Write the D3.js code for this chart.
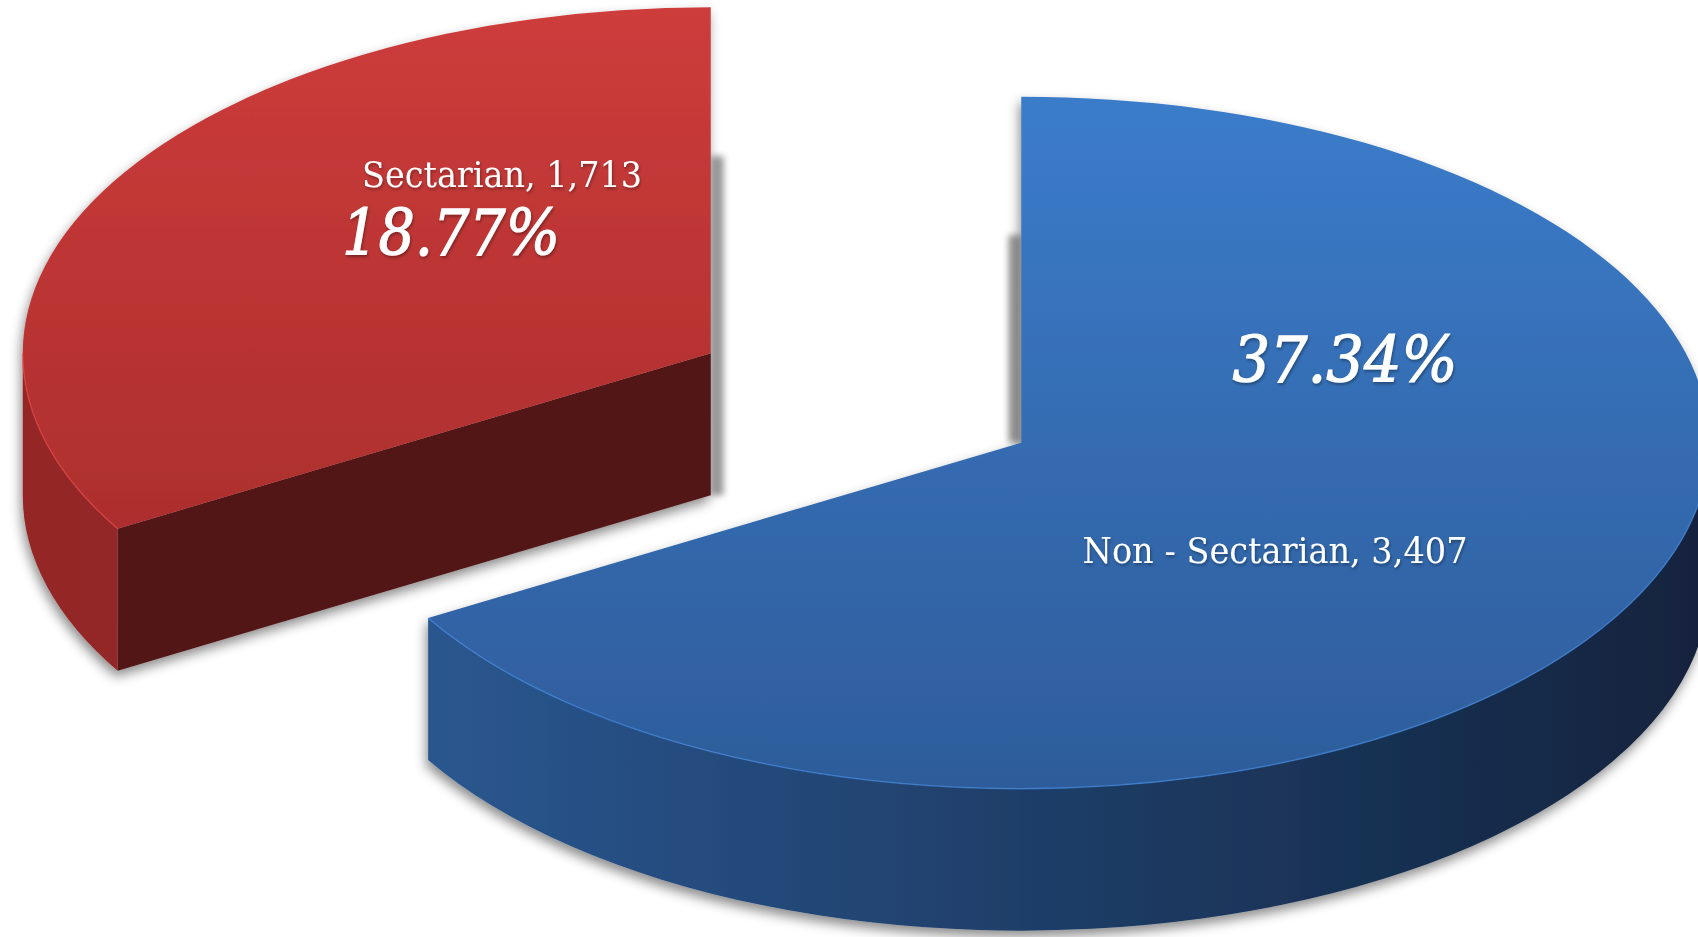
<!DOCTYPE html>
<html>
<head>
<meta charset="utf-8">
<script src="https://cdn.jsdelivr.net/npm/d3@7/dist/d3.min.js"></script>
<style>
  html, body { margin: 0; padding: 0; background: #ffffff; }
  svg { display: block; }
</style>
</head>
<body>
<div id="chart"></div>
<script>
// data
const categories = ['Non - Sectarian', 'Sectarian'];
const counts = [3407, 1713];
const percentLabels = ['37.34%', '18.77%'];

const palette = {
    'Non - Sectarian': { topA: '#3b7cca', topB: '#2e5c9a', sideA: '#2c5a95', sideB: '#12233d', face: '#1c355a' },
    'Sectarian': { topA: '#cd3c3b', topB: '#a22a29', sideA: '#942826', sideB: '#862220', face: '#521616' }
};

function buildChart(containerId) {
    const width = 1698;
    const height = 937;

    const cx = 866;
    const cy = 398;
    const rx = 688;
    const ry = 346;
    const depth = 142;
    const explode = 0.26;

    const svg = d3.select(containerId)
                  .append('svg')
                  .attr('width', width)
                  .attr('height', height);

    const defs = svg.append('defs');

    const shadow = defs.append('filter')
                       .attr('id', 'drop')
                       .attr('x', '-10%').attr('y', '-10%')
                       .attr('width', '120%').attr('height', '130%');
    shadow.append('feDropShadow')
          .attr('dx', -2).attr('dy', 6)
          .attr('stdDeviation', 6)
          .attr('flood-color', '#000')
          .attr('flood-opacity', 0.45);

    const blur = defs.append('filter').attr('id', 'blur')
                     .attr('x', '-100%').attr('y', '-10%')
                     .attr('width', '300%').attr('height', '120%');
    blur.append('feGaussianBlur').attr('stdDeviation', 3);

    const txtShadow = defs.append('filter').attr('id', 'txt');
    txtShadow.append('feDropShadow')
             .attr('dx', 1).attr('dy', 2)
             .attr('stdDeviation', 1.5)
             .attr('flood-color', '#000')
             .attr('flood-opacity', 0.35);

    const pie = d3.pie().sort(null).value(d => d.count);
    const data = categories.map((c, i) => ({ name: c, count: counts[i], pct: percentLabels[i] }));
    const arcs = pie(data);

    // scales mapping unit circle to the tilted ellipse
    const sx = d3.scaleLinear().domain([-1, 1]).range([-rx, rx]);
    const sy = d3.scaleLinear().domain([-1, 1]).range([-ry, ry]);

    arcs.forEach(a => {
        const mid = (a.startAngle + a.endAngle) / 2;
        a.ox = cx + sx(Math.sin(mid) * explode);
        a.oy = cy + sy(-Math.cos(mid) * explode);
    });

    function pt(a, ang, dz) {
        return [a.ox + sx(Math.sin(ang)), a.oy + sy(-Math.cos(ang)) + (dz || 0)];
    }

    function topPath(a) {
        const p0 = pt(a, a.startAngle);
        const p1 = pt(a, a.endAngle);
        const large = (a.endAngle - a.startAngle) > Math.PI ? 1 : 0;
        return 'M' + a.ox + ',' + a.oy + 'L' + p0 + 'A' + rx + ',' + ry + ' 0 ' + large + ' 1 ' + p1 + 'Z';
    }

    function wallPath(a) {
        const s = Math.max(a.startAngle, Math.PI / 2);
        const e = Math.min(a.endAngle, Math.PI * 1.5);
        if (e <= s) return null;
        const t0 = pt(a, s), t1 = pt(a, e);
        const b0 = pt(a, s, depth), b1 = pt(a, e, depth);
        return 'M' + t0 + 'A' + rx + ',' + ry + ' 0 0 1 ' + t1 +
               'L' + b1 + 'A' + rx + ',' + ry + ' 0 0 0 ' + b0 + 'Z';
    }

    function facePath(a, ang) {
        const p = pt(a, ang);
        const pb = pt(a, ang, depth);
        return 'M' + a.ox + ',' + a.oy + 'L' + p + 'L' + pb + 'L' + a.ox + ',' + (a.oy + depth) + 'Z';
    }

    // gradients
    arcs.forEach((a, i) => {
        const col = palette[a.data.name];
        const tg = defs.append('linearGradient')
                       .attr('id', 'top' + i)
                       .attr('gradientUnits', 'userSpaceOnUse')
                       .attr('x1', 0).attr('x2', 0)
                       .attr('y1', a.oy - ry).attr('y2', a.oy + ry);
        tg.append('stop').attr('offset', '0%').attr('stop-color', col.topA);
        tg.append('stop').attr('offset', '100%').attr('stop-color', col.topB);

        const sg = defs.append('linearGradient')
                       .attr('id', 'side' + i)
                       .attr('gradientUnits', 'userSpaceOnUse')
                       .attr('x1', a.ox - rx).attr('x2', a.ox + rx)
                       .attr('y1', 0).attr('y2', 0);
        sg.append('stop').attr('offset', '0%').attr('stop-color', col.sideA);
        sg.append('stop').attr('offset', '100%').attr('stop-color', col.sideB);
    });

    // draw back slice first
    const order = arcs.slice().sort((p, q) => p.oy - q.oy);

    order.forEach(a => {
        const i = arcs.indexOf(a);
        const col = palette[a.data.name];
        const g = svg.append('g').attr('class', 'slice');

        // soft shadow strips along the vertical cut edges
        const edgeAng = a.startAngle === 0 ? 0 : a.endAngle;
        const edge = pt(a, edgeAng);
        const side = a.startAngle === 0 ? -1 : 1;
        g.append('rect')
         .attr('x', side < 0 ? edge[0] - 13 : edge[0])
         .attr('y', a.oy - ry * (side < 0 ? 0.6 : 0.57))
         .attr('width', 13)
         .attr('height', ry * (side < 0 ? 0.6 : 0.57) + (side < 0 ? 0 : depth))
         .attr('fill', '#7a7a7a')
         .attr('opacity', 0.75)
         .attr('filter', 'url(#blur)');

        const body = g.append('g').attr('filter', 'url(#drop)');

        // visible cut faces
        [[a.startAngle, a.startAngle - Math.PI / 2], [a.endAngle, a.endAngle + Math.PI / 2]].forEach(f => {
            if (-Math.cos(f[1]) > 0.01) {
                body.append('path')
                    .attr('d', facePath(a, f[0]))
                    .attr('fill', col.face);
            }
        });

        const wp = wallPath(a);
        if (wp) {
            body.append('path')
                .attr('d', wp)
                .attr('fill', 'url(#side' + i + ')');
        }

        body.append('path')
            .attr('d', topPath(a))
            .attr('fill', 'url(#top' + i + ')');

        // light rim along the front edge
        const s = Math.max(a.startAngle, Math.PI / 2);
        const e = Math.min(a.endAngle, Math.PI * 1.5);
        if (e > s) {
            g.append('path')
             .attr('d', 'M' + pt(a, s) + 'A' + rx + ',' + ry + ' 0 0 1 ' + pt(a, e))
             .attr('fill', 'none')
             .attr('stroke', d3.color(col.topA).brighter(0.4))
             .attr('stroke-opacity', 0.6)
             .attr('stroke-width', 1.5);
        }
    });

    // labels
    const fmt = d3.format(',');
    const labelPos = {
        'Non - Sectarian': { name: [1275, 563], pct: [1345, 382], nameW: 385, pctW: 225 },
        'Sectarian': { name: [502, 187], pct: [451, 255], nameW: 280, pctW: 218 }
    };

    arcs.forEach(a => {
        const lp = labelPos[a.data.name];
        svg.append('text')
           .attr('x', lp.name[0])
           .attr('y', lp.name[1])
           .attr('text-anchor', 'middle')
           .attr('font-family', '"DejaVu Serif", serif')
           .attr('font-size', 35)
           .attr('textLength', lp.nameW)
           .attr('lengthAdjust', 'spacingAndGlyphs')
           .attr('fill', '#ffffff')
           .attr('filter', 'url(#txt)')
           .text(a.data.name + ', ' + fmt(a.data.count));

        svg.append('text')
           .attr('x', lp.pct[0])
           .attr('y', lp.pct[1])
           .attr('text-anchor', 'middle')
           .attr('font-family', '"DejaVu Serif", serif')
           .attr('font-style', 'italic')
           .attr('font-size', 64)
           .attr('textLength', lp.pctW)
           .attr('lengthAdjust', 'spacingAndGlyphs')
           .attr('fill', '#ffffff')
           .attr('stroke', '#ffffff')
           .attr('stroke-width', 1.2)
           .attr('filter', 'url(#txt)')
           .text(a.data.pct);
    });
}

buildChart('#chart');
</script>
</body>
</html>
